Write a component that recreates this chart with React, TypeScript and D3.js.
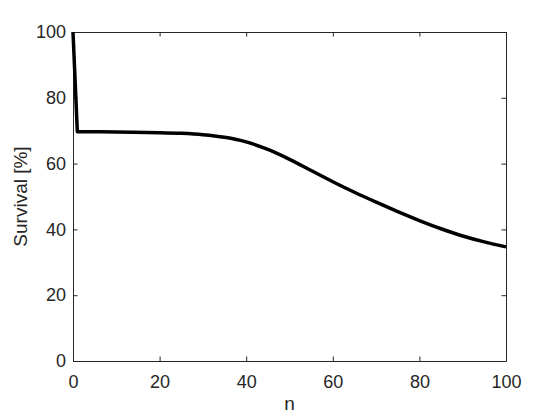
import React, { useRef, useEffect } from "react";
import * as d3 from "d3";

const nValues = [0, 1, 10, 20, 25, 30, 35, 40, 45, 50, 55, 60, 65, 70, 75, 80, 85, 90, 95, 100];
const survival = [100, 69.7, 69.6, 69.4, 69.2, 68.8, 68.0, 66.6, 64.3, 61.3, 57.9, 54.5, 51.3, 48.3, 45.4, 42.7, 40.2, 38.0, 36.2, 34.7];
const xTicks = [0, 20, 40, 60, 80, 100];
const yTicks = [0, 20, 40, 60, 80, 100];

const W = 560;
const H = 420;
const left = 73, right = 506, top = 32, bottom = 361;

const App = () => {
  const svgRef = useRef<SVGSVGElement>(null);

  useEffect(() => {
    const svg = d3.select(svgRef.current);
    svg.selectAll("*").remove();

    const x = d3.scaleLinear().domain([0, 100]).range([left, right]);
    const y = d3.scaleLinear().domain([0, 100]).range([bottom, top]);
    const ink = "#262626";
    const font = "'Liberation Sans', Arial, sans-serif";

    svg.append("rect").attr("width", W).attr("height", H).attr("fill", "#fff");

    // axes, ticks inside like matlab
    const gx = svg.append("g").attr("transform", `translate(0,${bottom})`)
      .call(d3.axisBottom(x).tickValues(xTicks).tickSizeInner(-4.5).tickSizeOuter(0).tickPadding(14));
    const gy = svg.append("g").attr("transform", `translate(${left},0)`)
      .call(d3.axisLeft(y).tickValues(yTicks).tickSizeInner(-4.5).tickSizeOuter(0).tickPadding(7));
    const gt = svg.append("g").attr("transform", `translate(0,${top})`)
      .call(d3.axisTop(x).tickValues(xTicks).tickSizeInner(-4.5).tickSizeOuter(0).tickFormat(() => ""));
    const gr = svg.append("g").attr("transform", `translate(${right},0)`)
      .call(d3.axisRight(y).tickValues(yTicks).tickSizeInner(-4.5).tickSizeOuter(0).tickFormat(() => ""));

    [gx, gy, gt, gr].forEach((g) => {
      g.select(".domain").attr("stroke", ink).attr("stroke-width", 1);
      g.selectAll(".tick line").attr("stroke", ink).attr("stroke-width", 1);
      g.selectAll(".tick text").attr("fill", ink).style("font-family", font).style("font-size", "18px");
    });

    const pts = nValues.map((n, i) => [n, survival[i]] as [number, number]);

    // the initial drop is straight, the rest is a smooth curve
    const straight = d3.line<[number, number]>().x((d) => x(d[0])).y((d) => y(d[1]));
    const smooth = straight.curve(d3.curveCatmullRom.alpha(0.5));
    const d = straight.curve(d3.curveLinear)(pts.slice(0, 2)) + smooth.curve(d3.curveCatmullRom.alpha(0.5))(pts.slice(1))!.replace(/^M/, "L");

    svg.append("path")
      .attr("d", d)
      .attr("fill", "none")
      .attr("stroke", "#000")
      .attr("stroke-width", 3.5)
      .attr("stroke-linejoin", "round");

    svg.append("text")
      .attr("x", (left + right) / 2)
      .attr("y", 410)
      .attr("text-anchor", "middle")
      .attr("fill", ink)
      .style("font-family", font)
      .style("font-size", "19px")
      .text("n");

    svg.append("text")
      .attr("transform", `translate(27,${(top + bottom) / 2}) rotate(-90)`)
      .attr("text-anchor", "middle")
      .attr("fill", ink)
      .style("font-family", font)
      .style("font-size", "19px")
      .text("Survival [%]");
  }, []);

  return (
    <div style={{ position: "absolute", left: 0, top: 0 }}>
      <svg ref={svgRef} width={W} height={H} />
    </div>
  );
};

export default App;
